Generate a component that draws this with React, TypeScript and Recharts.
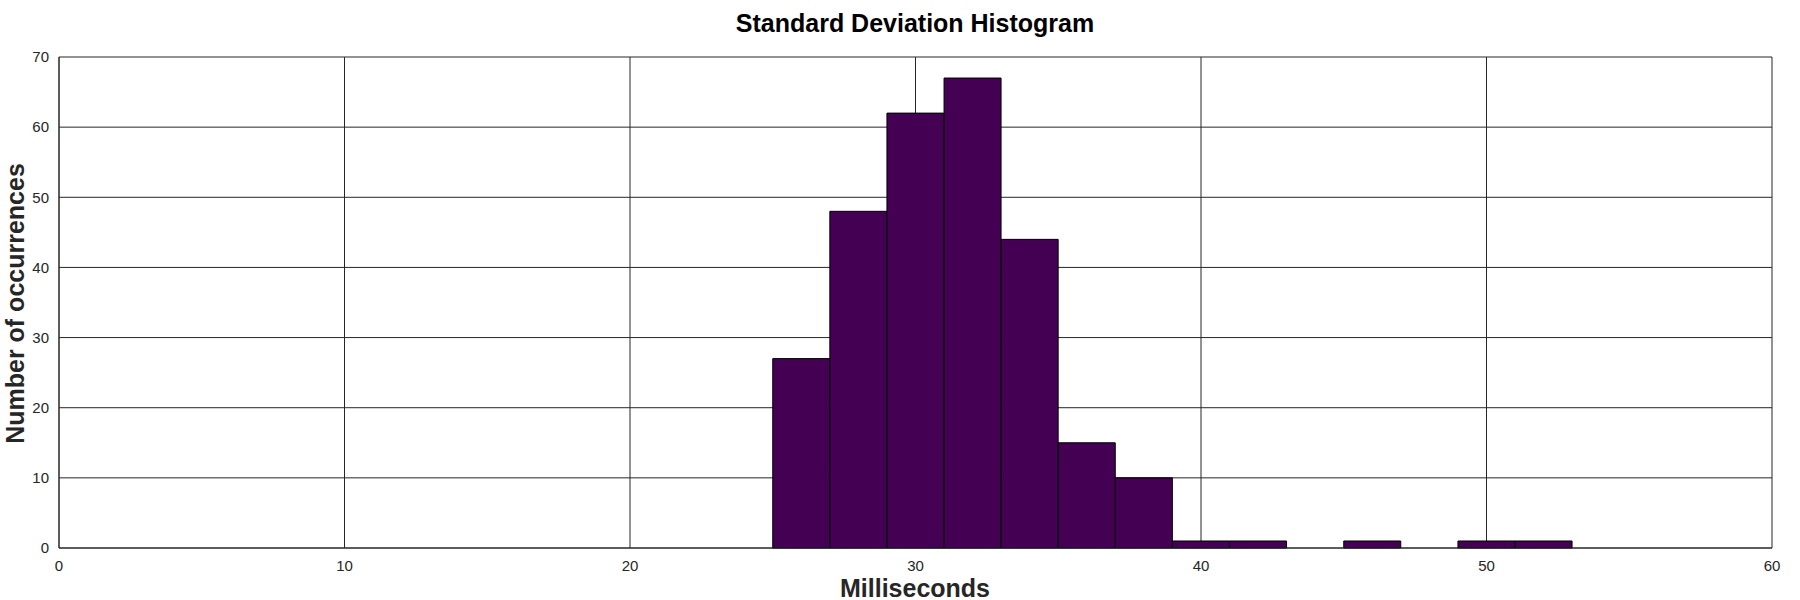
import React from 'react'
import { BarChart, Bar, XAxis, YAxis, CartesianGrid } from 'recharts'

// histogram bins (ms) and counts
const BIN_WIDTH = 2
const BIN_START = [25, 27, 29, 31, 33, 35, 37, 39, 41, 43, 45, 47, 49, 51]
const COUNTS    = [27, 48, 62, 67, 44, 15, 10, 1, 1, 0, 1, 0, 1, 1]

const X_TICKS = [0, 10, 20, 30, 40, 50, 60]
const Y_TICKS = [0, 10, 20, 30, 40, 50, 60, 70]

const FONT = '"Liberation Sans", Arial, Helvetica, sans-serif'
const INK = '#262626'

const W = 1800
const H = 600

export default function App() {
  const data = BIN_START.map((start, i) => ({
    mid: start + BIN_WIDTH / 2,
    count: COUNTS[i],
  }))

  return (
    <div style={{ position: 'absolute', left: 0, top: 0, width: W, height: H, background: '#fff', fontFamily: FONT }}>
      <BarChart
        width={W} height={H} data={data}
        margin={{ top: 57, right: 28, bottom: 12, left: 9 }}
        barCategoryGap={0} barGap={0}
      >
        <CartesianGrid stroke={INK} strokeWidth={1} />
        <XAxis
          type="number" dataKey="mid"
          domain={[0, 60]} ticks={X_TICKS} allowDataOverflow
          height={40} tickLine={false} tickSize={0} tickMargin={12}
          axisLine={{ stroke: INK }}
          tick={{ fontSize: 15, fill: INK, fontFamily: FONT }}
        />
        <YAxis
          type="number" domain={[0, 70]} ticks={Y_TICKS}
          width={50} tickLine={false} tickSize={0} tickMargin={10}
          axisLine={{ stroke: INK }}
          tick={{ fontSize: 15, fill: INK, fontFamily: FONT }}
        />
        <Bar dataKey="count" fill="#440154" stroke="#000" strokeWidth={1} isAnimationActive={false} />
      </BarChart>

      {/* title */}
      <div style={{ position: 'absolute', left: 0, width: 1830, top: 11, textAlign: 'center', fontSize: 25, lineHeight: '25px', fontWeight: 'bold', color: '#000' }}>
        Standard Deviation Histogram
      </div>

      {/* x label */}
      <div style={{ position: 'absolute', left: 0, width: 1830, top: 576, textAlign: 'center', fontSize: 25, lineHeight: '25px', fontWeight: 'bold', color: INK }}>
        Milliseconds
      </div>

      {/* y label */}
      <div style={{
        position: 'absolute', left: 15 - 200, top: 303 - 12.5, width: 400, height: 25,
        textAlign: 'center', fontSize: 25, lineHeight: '25px', fontWeight: 'bold', color: INK,
        transform: 'rotate(-90deg)', transformOrigin: '50% 50%',
      }}>
        Number of occurrences
      </div>
    </div>
  )
}
